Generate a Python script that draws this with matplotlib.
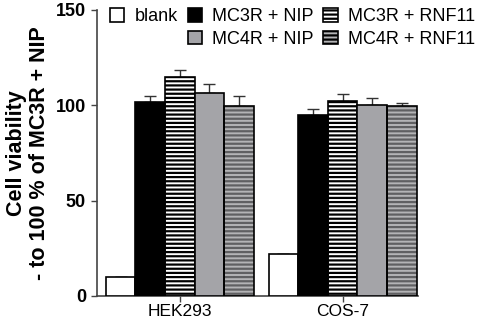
import matplotlib
matplotlib.use("Agg")
import matplotlib.pyplot as plt
import numpy as np
from matplotlib.patches import Rectangle

plt.rcParams['font.family'] = ['Liberation Sans', 'DejaVu Sans']
plt.rcParams['hatch.linewidth'] = 1.6

groups = ["HEK293", "COS-7"]
series = ["blank", "MC3R + NIP", "MC3R + RNF11", "MC4R + NIP", "MC4R + RNF11"]
values = {
    "blank":        [10.0, 21.8],
    "MC3R + NIP":   [101.4, 94.8],
    "MC3R + RNF11": [114.5, 102.1],
    "MC4R + NIP":   [106.4, 100.2],
    "MC4R + RNF11": [99.5, 99.3],
}
errors = {
    "blank":        [0.0, 0.4],
    "MC3R + NIP":   [3.5, 2.9],
    "MC3R + RNF11": [3.8, 3.8],
    "MC4R + NIP":   [4.4, 3.6],
    "MC4R + RNF11": [5.4, 1.6],
}
yticks = [0, 50, 100, 150]

styles = {
    "blank":        dict(face="white", hatch=None, hcol=None),
    "MC3R + NIP":   dict(face="black", hatch=None, hcol=None),
    "MC3R + RNF11": dict(face="white", hatch="----", hcol="black"),
    "MC4R + NIP":   dict(face="#a4a4a8", hatch=None, hcol=None),
    "MC4R + RNF11": dict(face="#b4b4b6", hatch="----", hcol="#606062"),
}

fig = plt.figure(figsize=(4.82, 3.23), dpi=100)
ax = fig.add_axes([97/482, 1-296/323, (418-97)/482, (296-9.5)/323])

n = len(series)
width = 1.0
centers = np.array([0.0, 5.5])
handles = {}
for i, s in enumerate(series):
    x = centers + (i - (n-1)/2) * width
    st = styles[s]
    if st["hatch"]:
        ax.bar(x, values[s], width=width, color=st["face"], edgecolor=st["hcol"],
               hatch=st["hatch"], linewidth=0, zorder=2)
        ax.bar(x, values[s], width=width, fill=False, edgecolor="black", linewidth=1.2, zorder=3)
    else:
        ax.bar(x, values[s], width=width, color=st["face"], edgecolor="black", linewidth=1.2, zorder=3)
    ax.errorbar(x, values[s], yerr=[np.zeros(2), errors[s]], fmt="none", ecolor="#333333",
                elinewidth=1.0, capsize=4.5, capthick=1.0, zorder=1)
    h = Rectangle((0, 0), 1, 1, facecolor=st["face"], edgecolor="black", linewidth=1.2,
                  hatch=st["hatch"])
    handles[s] = h

ax.set_xlim(centers[0] - 2.8, centers[1] + 2.55)
ax.set_ylim(0, 150)
ax.set_yticks(yticks)
ax.set_yticklabels([str(t) for t in yticks], fontsize=13, fontweight="bold")
ax.set_xticks(centers)
ax.set_xticklabels(groups, fontsize=12.5)
for sp in ["top", "right"]:
    ax.spines[sp].set_visible(False)
for sp in ["left", "bottom"]:
    ax.spines[sp].set_color("#444444")
    ax.spines[sp].set_linewidth(1.2)
ax.tick_params(axis="both", direction="out", length=4, width=1.0, color="#444444", pad=4)
ax.tick_params(axis="x", pad=1.5)
ax.set_ylabel("Cell viability\n- to 100 % of MC3R + NIP", fontsize=15.5, fontweight="bold",
              linespacing=1.1, labelpad=4)

empty = Rectangle((0, 0), 1, 1, visible=False)
hlist = [handles["blank"], empty, handles["MC3R + NIP"], handles["MC4R + NIP"],
         handles["MC3R + RNF11"], handles["MC4R + RNF11"]]
llist = ["blank", "", "MC3R + NIP", "MC4R + NIP", "MC3R + RNF11", "MC4R + RNF11"]
fig.legend(hlist, llist, ncol=3, loc="upper left", bbox_to_anchor=(110/482, 1 - 8/323),
           frameon=False, fontsize=13, handlelength=0.8, handleheight=0.8,
           handletextpad=0.55, columnspacing=0.55, labelspacing=0.3, borderpad=0,
           borderaxespad=0)

fig.savefig("out.png", dpi=100)
